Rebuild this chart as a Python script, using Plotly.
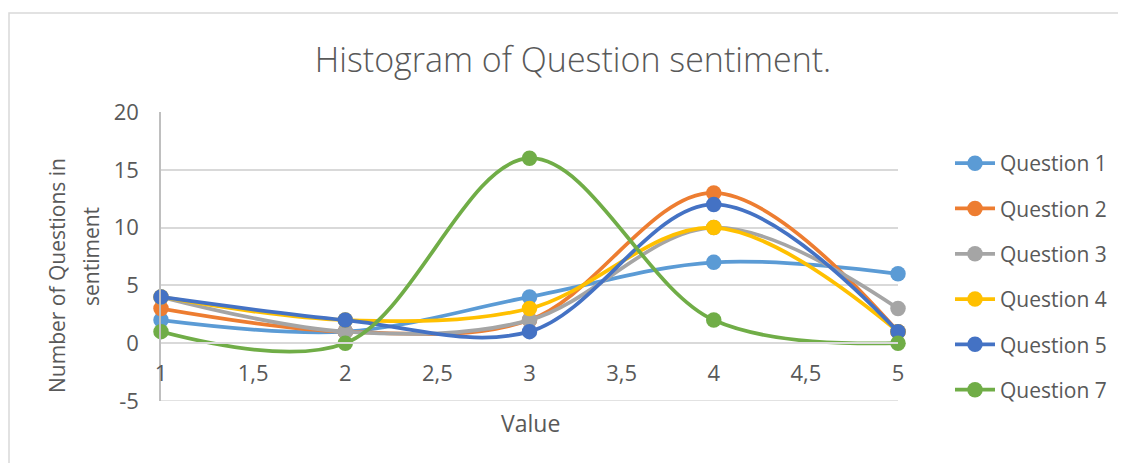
import plotly.graph_objects as go

x_values = [1, 2, 3, 4, 5]
series_names = ["Question 1", "Question 2", "Question 3", "Question 4", "Question 5", "Question 7"]
q1 = [2, 1, 4, 7, 6]
q2 = [3, 1, 2, 13, 1]
q3 = [4, 1, 2, 10, 3]
q4 = [4, 2, 3, 10, 1]
q5 = [4, 2, 1, 12, 1]
q7 = [1, 0, 16, 2, 0]
series_values = [q1, q2, q3, q4, q5, q7]
colors = ["#5B9BD5", "#ED7D31", "#A5A5A5", "#FFC000", "#4472C4", "#70AD47"]
x_ticks = [1, 1.5, 2, 2.5, 3, 3.5, 4, 4.5, 5]
y_ticks = [-5, 0, 5, 10, 15, 20]
y_tick_labels = ["-5", "0", "5", "10", "15", "20"]

FONT = "Open Sans"
TXT = "#595959"
OFF = 8  # page offset of the figure in the screenshot

fig = go.Figure()
for name, vals, col in zip(series_names, series_values, colors):
    fig.add_trace(go.Scatter(
        x=x_values, y=vals, name=name, mode="lines+markers",
        line=dict(color=col, width=3.75, shape="spline", smoothing=1.0),
        marker=dict(color=col, size=15.5),
        cliponaxis=False, legendgroup=name,
    ))

W, H = 1126 - OFF, 463 - OFF
L = 161 - OFF
T = 112 - OFF
Rpx = 898 - OFF
Bpx = 401 - OFF
R = W - Rpx
B = H - Bpx
pw, ph = Rpx - L, Bpx - T

def px_x(p):
    return (p - OFF - L) / pw

def px_y(p):
    return (Bpx - (p - OFF)) / ph

fig.update_layout(
    width=W, height=H,
    margin=dict(l=L, r=R, t=T, b=B),
    paper_bgcolor="white", plot_bgcolor="white",
    separators=", ",
    font=dict(family=FONT, color=TXT, size=21),
    title=dict(text="Histogram of Question sentiment.", x=(573 - OFF) / W, xanchor="center",
               y=1 - (60 - OFF) / H, yanchor="middle",
               font=dict(family=FONT, size=34, color=TXT, weight=300)),
    xaxis=dict(range=[1, 5], tickvals=x_ticks, anchor="free", position=0.2,
               showgrid=False, zeroline=False, showline=True, linecolor="#D9D9D9", linewidth=1.5,
               ticks="outside", ticklen=11, tickcolor="rgba(0,0,0,0)",
               tickfont=dict(size=22, color=TXT)),
    yaxis=dict(range=[-5, 20], tickvals=y_ticks, ticktext=y_tick_labels,
               showgrid=True, gridcolor="#D9D9D9", gridwidth=1.5,
               zeroline=False, showline=True, linecolor="#BFBFBF", linewidth=1.5,
               ticks="outside", ticklen=16, tickcolor="rgba(0,0,0,0)",
               tickfont=dict(size=22, color=TXT)),
    legend=dict(x=px_x(950), y=px_y(143), xanchor="left", yanchor="top",
                font=dict(size=21, color=TXT), traceorder="grouped", tracegroupgap=15,
                itemwidth=40, bgcolor="rgba(0,0,0,0)"),
    showlegend=True,
)

fig.add_annotation(text="Value", x=px_x(530), y=px_y(423), xref="paper", yref="paper",
                   showarrow=False, font=dict(size=23, color=TXT), xanchor="center", yanchor="middle")
fig.add_annotation(text="Number of Questions in", x=px_x(57), y=px_y(276),
                   xref="paper", yref="paper", textangle=-90, showarrow=False,
                   font=dict(size=21, color=TXT), xanchor="center", yanchor="middle")
fig.add_annotation(text="sentiment", x=px_x(91), y=px_y(257),
                   xref="paper", yref="paper", textangle=-90, showarrow=False,
                   font=dict(size=21, color=TXT), xanchor="center", yanchor="middle")

# bottom boundary line of the plot area at y = -5
fig.add_shape(type="line", xref="x", yref="y", x0=1, x1=5, y0=-5, y1=-5,
              line=dict(color="#D9D9D9", width=1.5), layer="below")

fig.add_shape(type="rect", xref="paper", yref="paper",
              x0=px_x(9), x1=px_x(1135), y0=px_y(475), y1=px_y(13),
              line=dict(color="#D9D9D9", width=1.5), fillcolor="rgba(0,0,0,0)", layer="below")

fig.write_html("out.html")
